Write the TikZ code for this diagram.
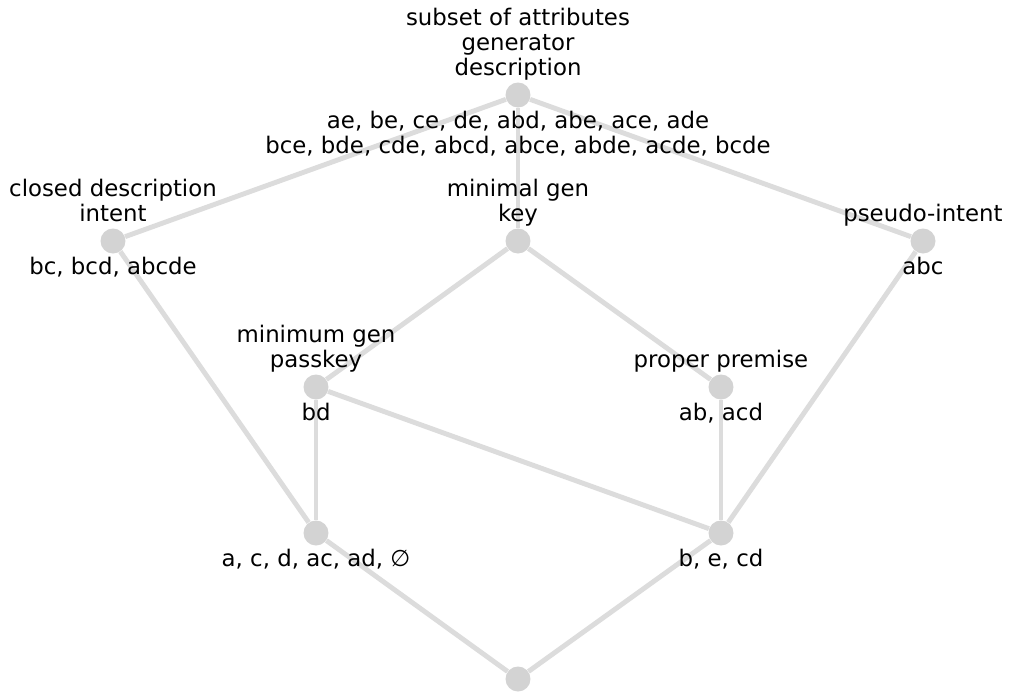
\documentclass[tikz,border=0pt]{standalone}
\usepackage{fontspec}
\setmainfont{DejaVu Sans}
\usepackage{xcolor}
\usetikzlibrary{positioning,backgrounds}

\definecolor{vertexgray}{HTML}{D3D3D3}
\definecolor{edgegray}{HTML}{DCDCDC}

\begin{document}
\begin{tikzpicture}[x=0.02cm,y=-0.02cm,
	every node/.style={font=\fontsize{13}{14.2}\selectfont},
	vertex/.style={circle,fill=vertexgray,minimum size=0.5cm,inner sep=0},
	up/.style={label={[align=center,inner sep=0,text depth=3.1pt,label distance=0.3pt]above:#1}},
	down/.style={label={[align=center,inner sep=0,label distance=1.5pt]below:#1}},
	link/.style={draw=edgegray,line width=2.8pt}]
	\useasboundingbox (0,0) rectangle (1009,694);
	%% top vertex
	\node[vertex,up={subset of attributes\\generator\\description},
		down={ae, be, ce, de, abd, abe, ace, ade\\bce, bde, cde, abcd, abce, abde, acde, bcde}] (top) at (518,95){};
	%% second row
	\node[vertex,up={closed description\\intent},down={bc, bcd, abcde}] (closed) at (113,241){};
	\node[vertex,up={minimal gen\\key}] (minimal) at (518,241){};
	\node[vertex,up={pseudo-intent},down={abc}] (pseudo) at (923,241){};
	%% third row
	\node[vertex,up={minimum gen\\passkey},down={bd}] (minimum) at (316,387){};
	\node[vertex,up={proper premise},down={ab, acd}] (proper) at (721,387){};
	%% fourth row
	\node[vertex,down={a, c, d, ac, ad, ∅}] (left) at (316,533){};
	\node[vertex,down={b, e, cd}] (right) at (721,533){};
	%% bottom vertex
	\node[vertex] (bottom) at (518,679){};
	%% edges behind the vertices
	\begin{scope}[on background layer]
		\foreach \v in {closed,minimal,pseudo}{
			\draw[link] (top) -- (\v);
		}
		\foreach \u/\v in {closed/left,minimal/minimum,minimal/proper,pseudo/right,
			minimum/left,minimum/right,proper/right,left/bottom,right/bottom}{
			\draw[link] (\u) -- (\v);
		}
	\end{scope}
\end{tikzpicture}
\end{document}
